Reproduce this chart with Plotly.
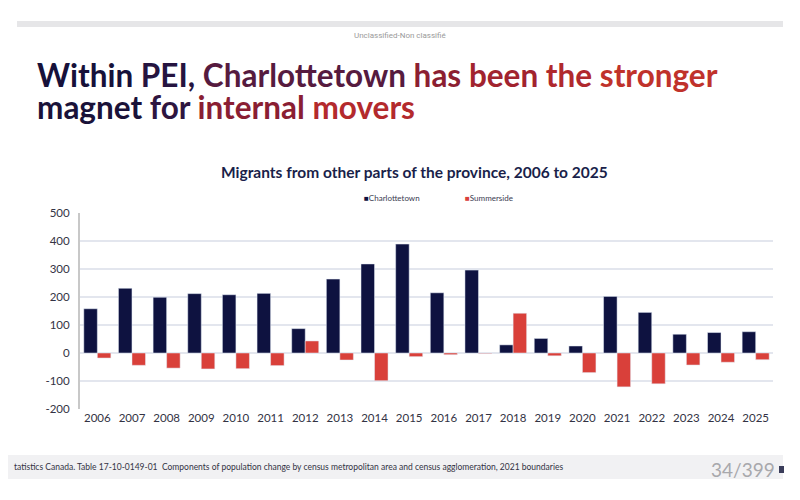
import plotly.graph_objects as go

years = [str(y) for y in range(2006, 2026)]
charlottetown = [158, 231, 199, 212, 208, 213, 87, 264, 318, 389,
                 215, 296, 29, 52, 25, 202, 145, 67, 73, 76]
summerside = [-18, -44, -54, -57, -56, -45, 43, -25, -99, -13,
              -6, -2, 142, -10, -70, -121, -110, -43, -33, -24]
y_ticks = [-200, -100, 0, 100, 200, 300, 400, 500]
y_labels = ["-200", "-100", "0", "100", "200", "300", "400", "500"]

NAVY = "#0e1240"
RED = "#d9403a"

fig = go.Figure()
fig.add_trace(go.Bar(x=years, y=charlottetown, name="Charlottetown",
                     marker_color=NAVY))
fig.add_trace(go.Bar(x=years, y=summerside, name="Summerside",
                     marker_color=RED))

# the page adds an 8px body margin, so the figure is drawn 8px in
OFF = 8
W, H = 800 - OFF, 500 - OFF


def px(x):
    return (x - OFF) / W


def py(y):
    return 1 - (y - OFF) / H


# plot box in window pixels
x0, x1, ytop, ybot = 80, 773, 213, 409

fig.update_layout(
    width=W, height=H,
    margin=dict(l=0, r=0, t=0, b=0),
    paper_bgcolor="white", plot_bgcolor="white",
    barmode="group", bargap=0.22, bargroupgap=0,
    showlegend=False,
    font=dict(family="Lato, Open Sans, sans-serif", color="#333333"),
    xaxis=dict(domain=[px(x0), px(x1)], automargin=False,
               showgrid=False, showline=False, ticks="",
               tickfont=dict(size=11.5, color="#333344", family="Lato")),
    yaxis=dict(domain=[py(ybot), py(ytop)], automargin=False,
               range=[-200, 500], tickvals=y_ticks, ticktext=y_labels,
               gridcolor="#e3e6ee", gridwidth=1.5,
               zeroline=False, showline=True, linecolor="#c8c8c8", linewidth=2,
               ticks="", ticklabelstandoff=6,
               tickfont=dict(size=11.5, color="#333344", family="Lato")),
)

shapes = [
    dict(type="rect", xref="paper", yref="paper", x0=px(17), x1=px(783),
         y0=py(27), y1=py(21), fillcolor="#e6e6e8", line_width=0, layer="below"),
    dict(type="rect", xref="paper", yref="paper", x0=px(8), x1=px(783),
         y0=py(479), y1=py(455), fillcolor="#f1f1f3", line_width=0, layer="below"),
    dict(type="rect", xref="paper", yref="paper", x0=px(779), x1=px(784),
         y0=py(473), y1=py(466), fillcolor="#3a3c5a", line_width=0),
]


def word(t, c):
    return "<span style='color:%s'>%s</span>" % (c, t)


line1 = " ".join([
    word("Within", "#17113a"), word("PEI,", "#251440"),
    word("Charlottetown", "#561b3f"), word("has", "#8c1f32"),
    word("been", "#a1232f"), word("the", "#b0292d"),
    word("stronger", "#c0322b"),
])
line2 = " ".join([
    word("magnet", "#1a1239"), word("for", "#2e1540"),
    word("internal", "#8a1e33"), word("movers", "#b32a2d"),
])

annotations = [
    dict(text="Unclassified-Non classifié", x=px(400), y=py(35),
         font=dict(size=8, color="#9a9a9a", family="Roboto")),
    dict(text="<b>" + line1 + "</b>", x=px(35), y=py(75), xanchor="left",
         font=dict(size=31.5, family="Lato")),
    dict(text="<b>" + line2 + "</b>", x=px(35), y=py(107), xanchor="left",
         font=dict(size=31.5, family="Lato")),
    dict(text="<b>Migrants from other parts of the province, 2006 to 2025</b>",
         x=px(415), y=py(172),
         font=dict(size=15.5, color="#1a1f4a", family="Lato")),
    dict(text="<span style='color:%s'>■</span>Charlottetown" % NAVY,
         x=px(362), y=py(198), xanchor="left",
         font=dict(size=8, color="#3a3a50", family="Lato")),
    dict(text="<span style='color:%s'>■</span>Summerside" % RED,
         x=px(463), y=py(198), xanchor="left",
         font=dict(size=8, color="#3a3a50", family="Lato")),
    dict(text="tatistics Canada. Table 17-10-0149-01  Components of population change "
              "by census metropolitan area and census agglomeration, 2021 boundaries",
         x=px(12), y=py(467), xanchor="left",
         font=dict(size=8.5, color="#333344", family="Lato")),
    dict(text="34/399", x=px(777), y=py(469), xanchor="right",
         font=dict(size=19, color="#a8a8ac", family="Lato")),
]
for a in annotations:
    a.setdefault("xref", "paper")
    a.setdefault("yref", "paper")
    a.setdefault("yanchor", "middle")
    a.setdefault("showarrow", False)

fig.update_layout(shapes=shapes, annotations=annotations)

fig.write_html("out.html")
